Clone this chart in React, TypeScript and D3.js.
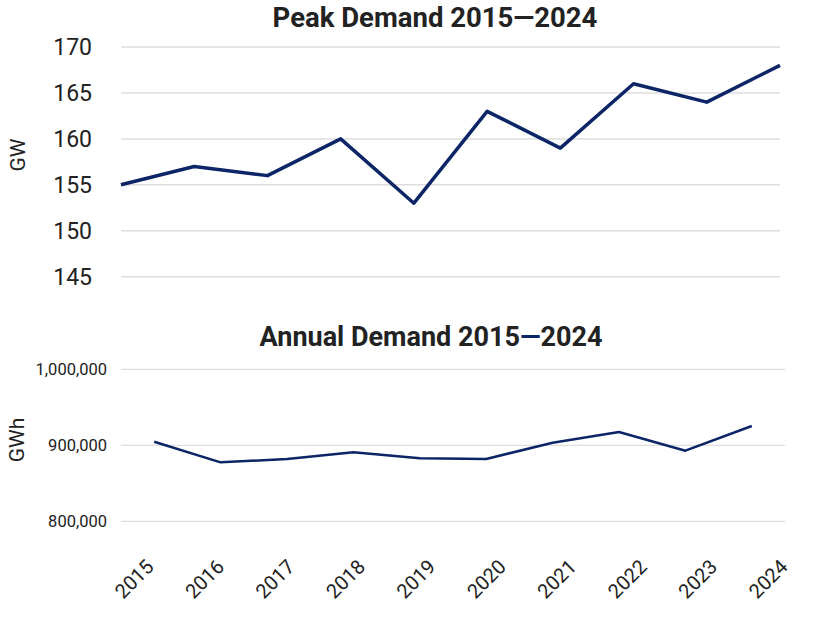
import React from "react";
import * as d3 from "d3";

const years = ["2015", "2016", "2017", "2018", "2019", "2020", "2021", "2022", "2023", "2024"];
const peakGW = [155, 157, 156, 160, 153, 163, 159, 166, 164, 168];
const annualGWh = [904600, 877600, 882000, 890800, 883000, 882000, 903400, 917500, 892900, 925400];
const peakTicks = [145, 150, 155, 160, 165, 170];
const annualTicks = [800000, 900000, 1000000];

const NAVY = "#0b2566";
const TEXT = "#222222";
const GRID = "#dedede";
const FONT = "Roboto, 'Open Sans', sans-serif";

export default function App() {
  const W = 826;
  const H = 620;

  // Top chart
  const xTop = d3.scalePoint<string>().domain(years).range([121, 780]);
  const yTop = d3.scaleLinear().domain([145, 170]).range([276.7, 47]);
  const lineTop = d3
    .line<number>()
    .x((_, i) => xTop(years[i]) as number)
    .y((d) => yTop(d));

  // Bottom chart
  const xBot = d3.scaleBand<string>().domain(years).range([121, 785]);
  const xLab = d3.scalePoint<string>().domain(years).range([155, 789]);
  const yBot = d3.scaleLinear().domain([800000, 1000000]).range([521.3, 369.3]);
  const lineBot = d3
    .line<number>()
    .x((_, i) => (xBot(years[i]) as number) + xBot.bandwidth() / 2)
    .y((d) => yBot(d));
  const fmt = d3.format(",");

  return (
    <svg width={W} height={H} style={{ display: "block", position: "absolute", left: 0, top: 0 }} fontFamily={FONT}>
      <rect width={W} height={H} fill="#ffffff" />
      {/* Top title */}
      <text x={435} y={27} textAnchor="middle" fontSize={27.5} fontWeight={700} fill={TEXT}>
        Peak Demand 2015—2024
      </text>
      {peakTicks.map((t) => (
        <g key={t}>
          <line x1={121} x2={780} y1={yTop(t)} y2={yTop(t)} stroke={GRID} strokeWidth={1.5} />
          <text x={92} y={yTop(t)} dy="0.36em" textAnchor="end" fontSize={23} fill={TEXT}>
            {t}
          </text>
        </g>
      ))}
      <text transform={`translate(25,155) rotate(-90)`} textAnchor="middle" fontSize={21} fill={TEXT}>
        GW
      </text>
      <path d={lineTop(peakGW) || ""} fill="none" stroke={NAVY} strokeWidth={3.5} strokeLinejoin="round" />

      {/* Bottom title */}
      <text x={431} y={346} textAnchor="middle" fontSize={27} fontWeight={700} fill={TEXT}>
        Annual Demand 2015<tspan fill={NAVY}>—</tspan>2024
      </text>
      {annualTicks.map((t) => (
        <g key={t}>
          <line x1={121} x2={785} y1={yBot(t)} y2={yBot(t)} stroke={GRID} strokeWidth={1.2} />
          <text x={107} y={yBot(t)} dy="0.36em" textAnchor="end" fontSize={16.5} fill={TEXT}>
            {fmt(t)}
          </text>
        </g>
      ))}
      <text transform={`translate(24,440) rotate(-90)`} textAnchor="middle" fontSize={21} fill={TEXT}>
        GWh
      </text>
      <path d={lineBot(annualGWh) || ""} fill="none" stroke={NAVY} strokeWidth={2.5} strokeLinejoin="round" />
      {years.map((y) => (
        <text
          key={y}
          transform={`translate(${xLab(y)},${568}) rotate(-45)`}
          textAnchor="end"
          fontSize={20}
          fill={TEXT}
        >
          {y}
        </text>
      ))}
    </svg>
  );
}
